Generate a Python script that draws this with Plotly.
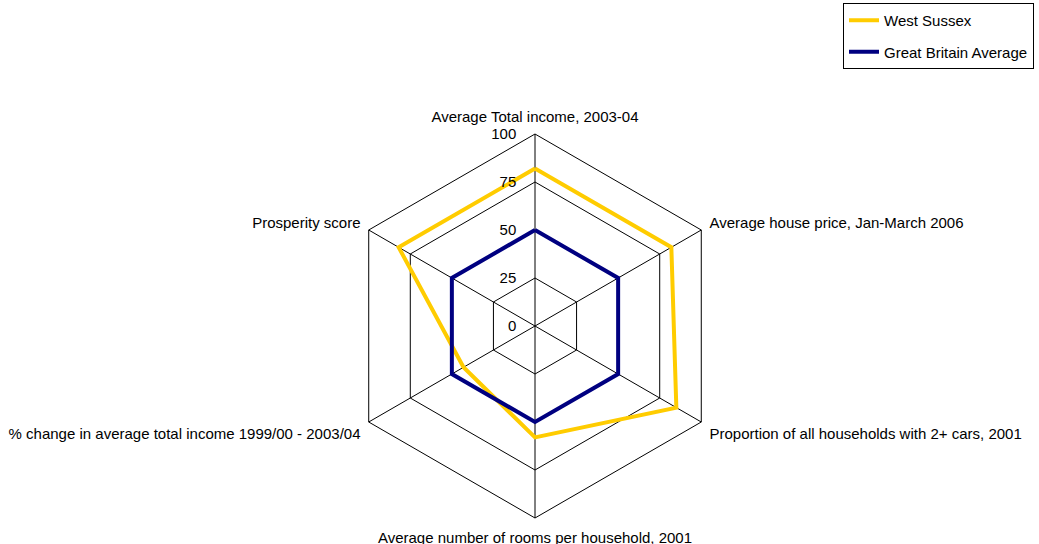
import plotly.graph_objects as go

categories = [
    "Average Total income, 2003-04",
    "Average house price, Jan-March 2006",
    "Proportion of all households with 2+ cars, 2001",
    "Average number of rooms per household, 2001",
    "% change in average total income 1999/00 - 2003/04",
    "Prosperity score",
]
west_sussex = [82, 82, 85, 58, 43, 82]
gb_average = [50, 50, 50, 50, 50, 50]
radial_ticks = [0, 25, 50, 75, 100]

W, H = 1039, 544
cx, cy, R = 535, 326, 192

fig = go.Figure()
fig.add_trace(go.Scatterpolar(
    r=west_sussex + west_sussex[:1], theta=categories + categories[:1],
    mode="lines", name="West Sussex", legendgroup="a",
    line=dict(color="#FFCC00", width=4),
))
fig.add_trace(go.Scatterpolar(
    r=gb_average + gb_average[:1], theta=categories + categories[:1],
    mode="lines", name="Great Britain Average", legendgroup="b",
    line=dict(color="#000080", width=4),
))

fig.update_layout(
    width=W, height=H,
    margin=dict(l=0, r=0, t=0, b=0),
    paper_bgcolor="white",
    font=dict(family="Liberation Sans, Arial, sans-serif", size=15, color="black"),
    polar=dict(
        domain=dict(x=[(cx - R) / W, (cx + R) / W], y=[(H - cy - R) / H, (H - cy + R) / H]),
        bgcolor="white",
        gridshape="linear",
        radialaxis=dict(
            range=[0, 100], tickvals=radial_ticks, angle=90, tickangle=90,
            showline=False, gridcolor="black", gridwidth=1,
            ticks="outside", ticklen=13, tickcolor="rgba(0,0,0,0)",
            tickfont=dict(size=15), side="counterclockwise",
        ),
        angularaxis=dict(
            direction="clockwise", rotation=90,
            showline=True, linecolor="black", linewidth=1,
            gridcolor="black", gridwidth=1,
            ticks="outside", ticklen=6, tickcolor="rgba(0,0,0,0)",
            tickfont=dict(size=15),
        ),
    ),
    legend=dict(
        x=843 / W, y=1 - 3 / H, xanchor="left", yanchor="top",
        bordercolor="black", borderwidth=1, bgcolor="white",
        tracegroupgap=9, font=dict(size=15),
    ),
    showlegend=True,
)

fig.write_html("out.html", config={"displayModeBar": False},
               post_script="document.body.style.margin='0';")
